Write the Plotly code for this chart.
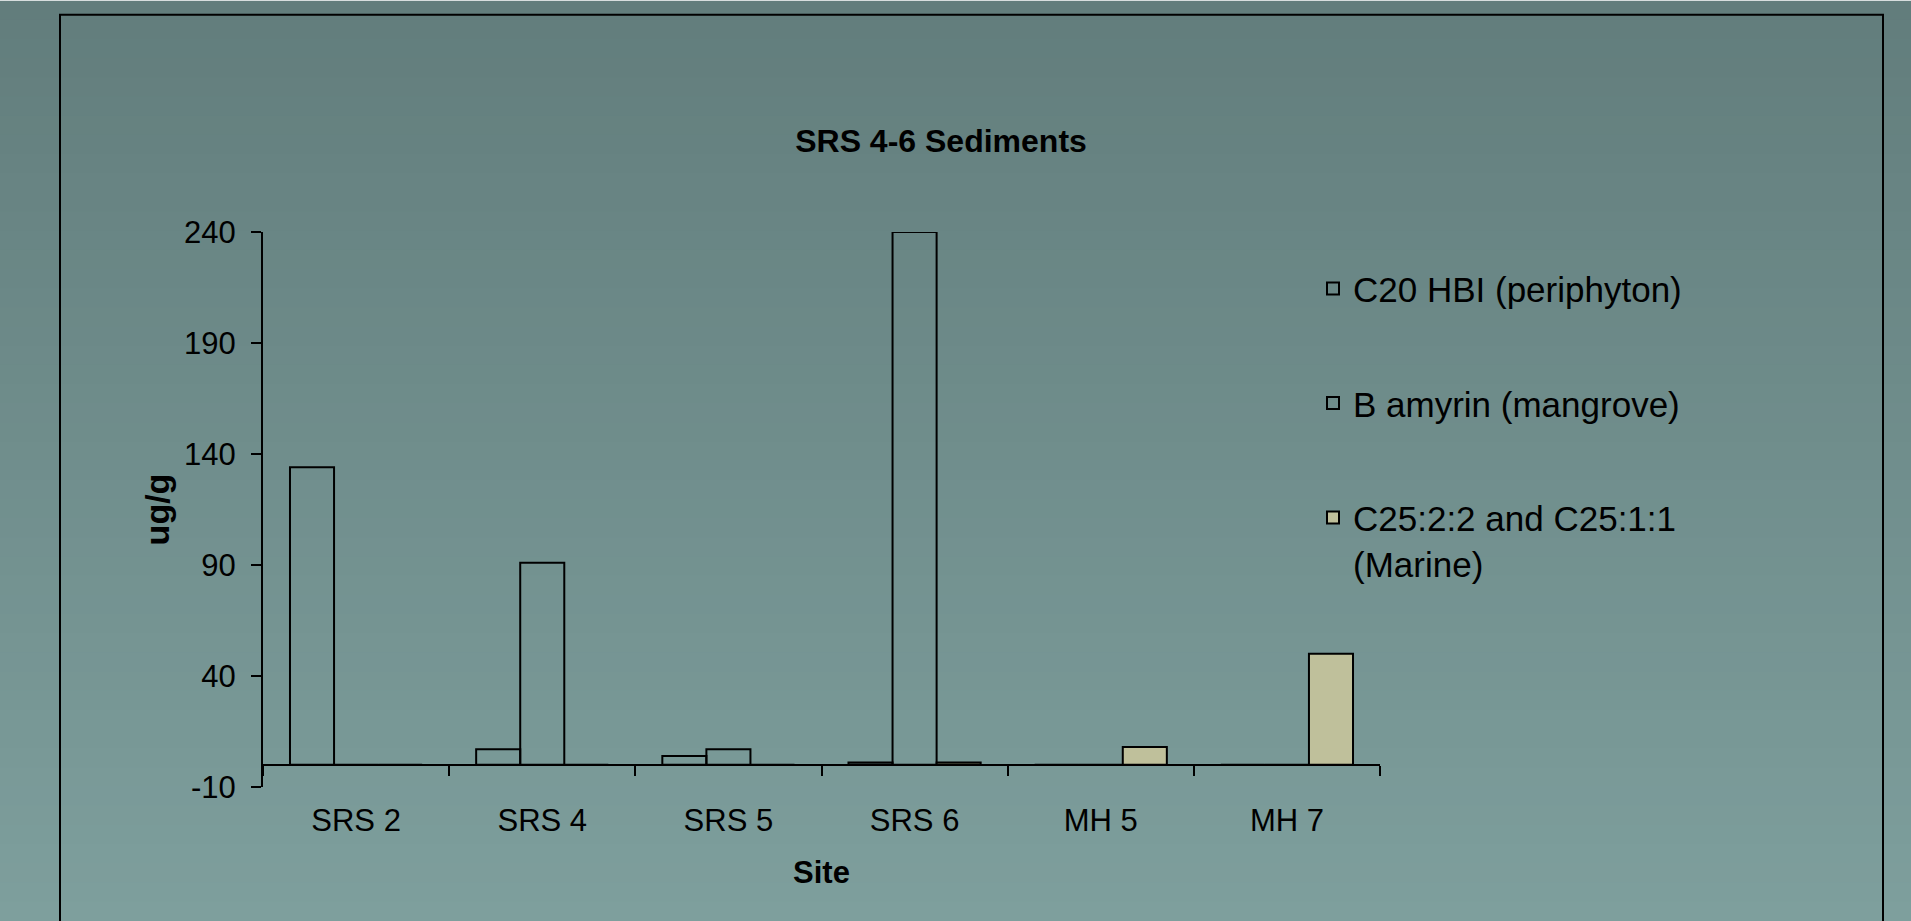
import plotly.graph_objects as go

# ---- data ----
sites = ["SRS 2", "SRS 4", "SRS 5", "SRS 6", "MH 5", "MH 7"]
c20_hbi = [134, 7, 4, 1, 0, 0]
b_amyrin = [0, 91, 7, 240, 0, 0]
c25_marine = [0, 0, 0, 1, 8, 50]
series_names = ["C20 HBI (periphyton)", "B amyrin (mangrove)", "C25:2:2 and C25:1:1<br>(Marine)"]
y_ticks = [-10, 40, 90, 140, 190, 240]
y_tick_labels = ["-10", "40", "90", "140", "190", "240"]

# ---- layout geometry (pixels) ----
FW, FH = 1911, 921
L, R, T, B = 263, 1380, 231.6, 787.3


def px2x(px):
    return (px - L) / (R - L)


def py2y(py):
    return (B - py) / (B - T)


FONT = "Liberation Sans, Arial, sans-serif"

fig = go.Figure()
fills = ["rgba(0,0,0,0)", "rgba(0,0,0,0)", "#bfc09b"]
for name, vals, fc in zip(series_names, [c20_hbi, b_amyrin, c25_marine], fills):
    fig.add_trace(go.Bar(
        x=sites, y=vals, name=name,
        marker=dict(color=fc, line=dict(color="black", width=2)),
        legendgroup=name,
    ))

# background gradient bands + border
shapes = []
top_c = (98, 125, 124)
bot_c = (126, 159, 157)
N = 48
for i in range(N):
    p0 = FH * i / N
    p1 = FH * (i + 1) / N + 1
    t = (i + 0.5) / N
    c = tuple(round(a + (b - a) * t) for a, b in zip(top_c, bot_c))
    shapes.append(dict(type="rect", xref="paper", yref="paper", layer="below",
                       x0=px2x(-5), x1=px2x(FW + 5), y0=py2y(p1), y1=py2y(p0),
                       line=dict(width=0), fillcolor="rgb(%d,%d,%d)" % c))
shapes.append(dict(type="rect", xref="paper", yref="paper", layer="below",
                   x0=px2x(60), x1=px2x(1883), y0=py2y(FH + 20), y1=py2y(14),
                   line=dict(color="black", width=2), fillcolor="rgba(0,0,0,0)"))

fig.update_layout(
    width=FW, height=FH,
    margin=dict(l=L, r=FW - R, t=T, b=FH - B, autoexpand=False),
    paper_bgcolor="rgba(0,0,0,0)", plot_bgcolor="rgba(0,0,0,0)",
    shapes=shapes,
    barmode="group", bargap=0.29, bargroupgap=0,
    title=dict(text="<b>SRS 4-6 Sediments</b>", x=941 / FW, xref="container", xanchor="center",
               y=1 - 141 / FH, yref="container", yanchor="middle",
               font=dict(family=FONT, size=32, color="black")),
    xaxis=dict(
        anchor="free", position=10 / 250,
        showline=True, linecolor="black", linewidth=2,
        ticks="outside", tickson="boundaries", ticklen=10, tickwidth=2, tickcolor="black",
        ticklabelstandoff=28,
        tickfont=dict(family=FONT, size=31, color="black"),
        title=dict(text="<b>Site</b>", font=dict(family=FONT, size=31, color="black"), standoff=23),
        showgrid=False, zeroline=False,
    ),
    yaxis=dict(
        range=[-10, 240], tickvals=y_ticks, ticktext=y_tick_labels,
        showline=True, linecolor="black", linewidth=2,
        ticks="outside", ticklen=10, tickwidth=2, tickcolor="black",
        ticklabelstandoff=9,
        tickfont=dict(family=FONT, size=31, color="black"),
        title=dict(text="<b>ug/g</b>", font=dict(family=FONT, size=34, color="black"), standoff=4),
        showgrid=False, zeroline=False,
    ),
    legend=dict(x=px2x(1313), y=py2y(259), xanchor="left", yanchor="top",
                font=dict(family=FONT, size=35, color="black"),
                bgcolor="rgba(0,0,0,0)", tracegroupgap=66, valign="top",
                traceorder="grouped"),
    showlegend=True,
)

fig.write_html("out.html", config={"displayModeBar": False},
               post_script="document.body.style.margin='0';document.body.style.overflow='hidden';")
